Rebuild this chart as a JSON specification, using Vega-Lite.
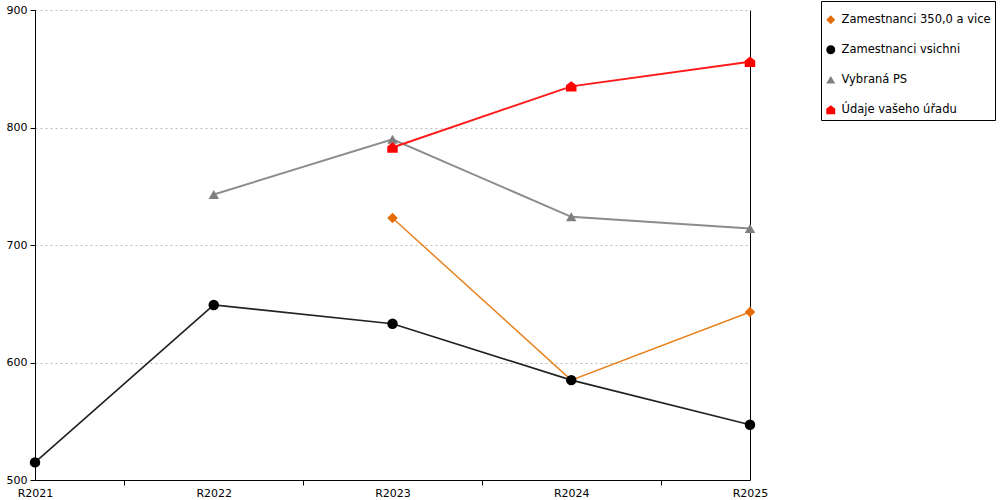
{
  "$schema": "https://vega.github.io/schema/vega-lite/v6.json",
  "width": 715,
  "height": 470,
  "autosize": "none",
  "padding": {"left": 35, "top": 10, "right": 250, "bottom": 20},
  "background": "white",
  "config": {
    "font": "DejaVu Sans",
    "view": {"stroke": null},
    "axis": {"labelFont": "DejaVu Sans", "labelFontSize": 11, "labelColor": "#000", "domainColor": "#000", "tickColor": "#000"}
  },
  "data": {
    "values": [
      {"rok": 2021, "serie": "Zamestnanci vsichni", "hodnota": 515},
      {"rok": 2022, "serie": "Zamestnanci vsichni", "hodnota": 649},
      {"rok": 2023, "serie": "Zamestnanci vsichni", "hodnota": 633},
      {"rok": 2024, "serie": "Zamestnanci vsichni", "hodnota": 585},
      {"rok": 2025, "serie": "Zamestnanci vsichni", "hodnota": 547},
      {"rok": 2022, "serie": "Vybraná PS", "hodnota": 743},
      {"rok": 2023, "serie": "Vybraná PS", "hodnota": 790},
      {"rok": 2024, "serie": "Vybraná PS", "hodnota": 724},
      {"rok": 2025, "serie": "Vybraná PS", "hodnota": 714},
      {"rok": 2023, "serie": "Zamestnanci 350,0 a vice", "hodnota": 723},
      {"rok": 2024, "serie": "Zamestnanci 350,0 a vice", "hodnota": 585},
      {"rok": 2025, "serie": "Zamestnanci 350,0 a vice", "hodnota": 643},
      {"rok": 2023, "serie": "Údaje vašeho úřadu", "hodnota": 783},
      {"rok": 2024, "serie": "Údaje vašeho úřadu", "hodnota": 835},
      {"rok": 2025, "serie": "Údaje vašeho úřadu", "hodnota": 856}
    ]
  },
  "layer": [
    {
      "encoding": {
        "x": {
          "field": "rok",
          "type": "quantitative",
          "scale": {"domain": [2021, 2025], "nice": false, "zero": false},
          "axis": {
            "title": null,
            "grid": false,
            "values": [2021, 2021.5, 2022, 2022.5, 2023, 2023.5, 2024, 2024.5, 2025],
            "labelExpr": "datum.value % 1 == 0 ? 'R' + datum.value : ''",
            "labelOverlap": false,
            "labelFlush": false,
            "labelPadding": 2,
            "tickSize": 5,
            "tickOpacity": {"condition": {"test": "datum.value % 1 == 0", "value": 0}, "value": 1}
          }
        },
        "y": {
          "field": "hodnota",
          "type": "quantitative",
          "scale": {"domain": [500, 900], "nice": false, "zero": false},
          "axis": {
            "title": null,
            "values": [500, 600, 700, 800, 900],
            "grid": true,
            "gridColor": "#bbbbbb",
            "gridDash": [2, 3],
            "tickSize": 5,
            "labelPadding": 3
          }
        }
      },
      "layer": [
        {
          "transform": [{"filter": "datum.serie == 'Vybraná PS'"}],
          "mark": {"type": "line", "color": "#8c8c8c", "strokeWidth": 2, "clip": false}
        },
        {
          "transform": [{"filter": "datum.serie == 'Údaje vašeho úřadu'"}],
          "mark": {"type": "line", "color": "#ff1a1a", "strokeWidth": 2, "clip": false}
        },
        {
          "transform": [{"filter": "datum.serie == 'Zamestnanci 350,0 a vice'"}],
          "mark": {"type": "line", "color": "#e8821f", "strokeWidth": 1.5, "clip": false}
        },
        {
          "transform": [{"filter": "datum.serie == 'Zamestnanci vsichni'"}],
          "mark": {"type": "line", "color": "#222222", "strokeWidth": 1.6, "clip": false}
        },
        {
          "mark": {"type": "point", "filled": true, "opacity": 1, "size": 110, "clip": false},
          "encoding": {
            "color": {
              "field": "serie",
              "type": "nominal",
              "scale": {
                "domain": ["Zamestnanci 350,0 a vice", "Zamestnanci vsichni", "Vybraná PS", "Údaje vašeho úřadu"],
                "range": ["#e36c09", "#000000", "#7f7f7f", "#ff0000"]
              },
              "legend": {
                "title": " ",
                "titleFontSize": 5,
                "titlePadding": 4,
                "orient": "none",
                "legendX": 786,
                "legendY": -9,
                "strokeColor": "#000",
                "fillColor": "#fff",
                "padding": 4,
                "labelFont": "DejaVu Sans",
                "labelFontSize": 11.5,
                "labelColor": "#000",
                "labelLimit": 300,
                "symbolSize": 80,
                "rowPadding": 17,
                "labelOffset": 5
              }
            },
            "shape": {
              "field": "serie",
              "type": "nominal",
              "scale": {
                "domain": ["Zamestnanci 350,0 a vice", "Zamestnanci vsichni", "Vybraná PS", "Údaje vašeho úřadu"],
                "range": ["diamond", "circle", "triangle-up", "M-1,1L1,1L1,-0.2L0,-1L-1,-0.2Z"]
              }
            },
            "order": {"field": "serie", "type": "nominal"}
          }
        }
      ]
    },
    {
      "mark": {"type": "rule", "opacity": 0},
      "encoding": {
        "y": {
          "field": "hodnota",
          "type": "quantitative",
          "axis": {"orient": "right", "title": null, "labels": false, "ticks": false, "grid": false, "domainColor": "#000"}
        }
      }
    }
  ],
  "resolve": {"axis": {"y": "independent"}}
}
